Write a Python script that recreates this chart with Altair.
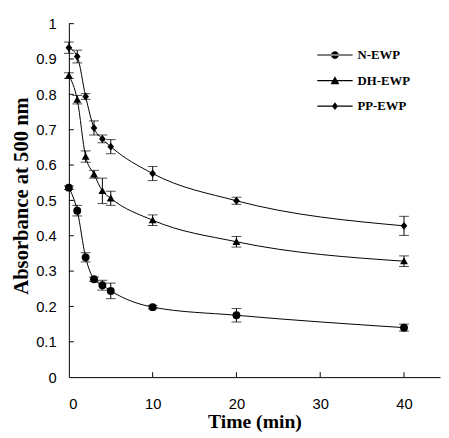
import altair as alt
import pandas as pd

# ---- data ----
time_min = [0, 1, 2, 3, 4, 5, 10, 20, 40]
series_names = ["N-EWP", "DH-EWP", "PP-EWP"]
n_ewp = [0.536, 0.471, 0.339, 0.277, 0.260, 0.244, 0.198, 0.175, 0.140]
n_err = [0.005, 0.015, 0.013, 0.006, 0.014, 0.022, 0.005, 0.019, 0.010]
dh_ewp = [0.853, 0.785, 0.624, 0.574, 0.527, 0.506, 0.444, 0.383, 0.328]
dh_err = [0.008, 0.012, 0.016, 0.011, 0.036, 0.020, 0.015, 0.015, 0.015]
pp_ewp = [0.932, 0.907, 0.794, 0.705, 0.674, 0.652, 0.576, 0.499, 0.428]
pp_err = [0.016, 0.018, 0.008, 0.020, 0.011, 0.020, 0.020, 0.010, 0.027]
x_ticks = [0, 10, 20, 30, 40]
y_ticks = [0, 0.1, 0.2, 0.3, 0.4, 0.5, 0.6, 0.7, 0.8, 0.9, 1]

rows = []
for name, vals, errs in zip(series_names, [n_ewp, dh_ewp, pp_ewp], [n_err, dh_err, pp_err]):
    for t, v, e in zip(time_min, vals, errs):
        rows.append({"t": t, "v": v, "lo": v - e, "hi": v + e, "s": name})
df = pd.DataFrame(rows)

xs = alt.Scale(domain=[0, 44.3], nice=False)
ys = alt.Scale(domain=[0, 1], nice=False)

xax = alt.Axis(values=x_ticks, ticks=False, tickSize=0, grid=False, labelPadding=20,
               labelFont="Liberation Sans", labelFontSize=15, labelColor="black",
               title="Time (min)", titleFont="Liberation Serif", titleFontSize=20,
               titleFontWeight="bold", titleColor="black", titleBaseline="alphabetic",
               titleY=51, domainColor="black", domainWidth=1)
yax = alt.Axis(values=y_ticks, format="~g", ticks=False, tickSize=0, grid=False, labelPadding=13,
               labelFont="Liberation Sans", labelFontSize=15, labelColor="black",
               title="Absorbance at 500 nm", titleFont="Liberation Serif", titleFontSize=21,
               titleFontWeight="bold", titleColor="black", titleBaseline="alphabetic",
               titleX=-42, titleY=175, domainColor="black", domainWidth=1)

chart_shapes = ["circle", "M0,-1L1,0.8L-1,0.8Z", "M0,-1L0.85,0L0,1L-0.85,0Z"]
bar = "M-1,-0.03H1V0.03H-1Z"
legend_shapes = [
    bar + "M-0.22,0A0.22,0.22 0 1,0 0.22,0A0.22,0.22 0 1,0 -0.22,0Z",
    bar + "M0,-0.25L0.25,0.2L-0.25,0.2Z",
    bar + "M0,-0.22L0.17,0L0,0.22L-0.17,0Z",
]

base = alt.Chart(df)

X = lambda f: alt.X(f, scale=xs, axis=xax)
Y = lambda f: alt.Y(f, scale=ys, axis=yax)

lines = base.mark_line(color="black", strokeWidth=1, interpolate="monotone").encode(
    x=X("t:Q"), y=Y("v:Q"), detail="s:N",
)

errs = base.mark_errorbar(ticks={"size": 10, "thickness": 1, "color": "black"},
                          rule={"strokeWidth": 1, "color": "black"}, color="black").encode(
    x=X("t:Q"), y=Y("lo:Q"), y2="hi:Q", detail="s:N",
)

pts = base.mark_point(filled=True, color="black", opacity=1).encode(
    x=X("t:Q"), y=Y("v:Q"),
    shape=alt.Shape("s:N", scale=alt.Scale(domain=series_names, range=chart_shapes), legend=None),
    size=alt.value(64),
)

leg = base.transform_filter("datum.t < 0").mark_point(
    filled=True, color="black", opacity=1
).encode(
    x=X("t:Q"), y=Y("v:Q"),
    shape=alt.Shape("s:N", scale=alt.Scale(domain=series_names, range=legend_shapes),
                    legend=alt.Legend(title=None, orient="none", legendX=252, legendY=13,
                                      symbolSize=1296, symbolFillColor="black",
                                      labelFont="Liberation Serif", labelFontSize=13,
                                      labelFontWeight="bold", labelColor="black",
                                      labelOffset=4, rowPadding=-1)),
    size=alt.value(1296),
)

ytk = alt.Chart(pd.DataFrame({"v": y_ticks[1:]})).mark_rule(color="black", strokeWidth=1).encode(
    y=Y("v:Q"), x=alt.value(0), x2=alt.value(5))
xtk = alt.Chart(pd.DataFrame({"t": x_ticks[1:]})).mark_rule(color="black", strokeWidth=1).encode(
    x=X("t:Q"), y=alt.value(360), y2=alt.value(355))

chart = alt.layer(lines, ytk, xtk, errs, pts, leg).resolve_scale(shape="independent").properties(
    width=378, height=360,
    padding={"left": 62, "top": 12, "right": 1, "bottom": 56},
    autosize=alt.AutoSizeParams(type="none"),
    background="white",
).configure_view(stroke=None)

chart.save("out.html", embed_options={"renderer": "svg", "actions": False})
